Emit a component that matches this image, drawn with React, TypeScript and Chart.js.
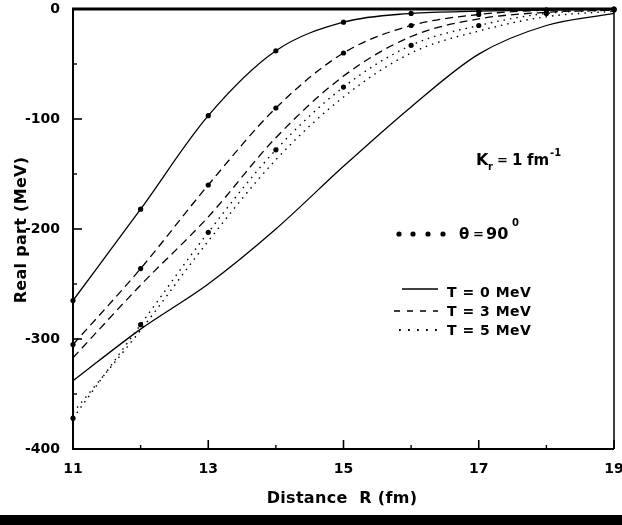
import React, { useEffect, useRef } from "react";
import { Chart, registerables } from "chart.js";

Chart.register(...registerables);

// ---- data ----
const distances = [11, 12, 13, 14, 15, 16, 17, 18, 19];
const t0Theta90 = [-265, -182, -97, -38, -12, -4, -2, -1, 0];
const t0Other = [-338, -291, -250, -200, -143, -89, -41, -15, -4];
const t3Theta90 = [-305, -236, -160, -90, -40, -15, -5, -1, 0];
const t3Other = [-317, -251, -189, -117, -61, -25, -9, -3, -1];
const t5Theta90 = [-372, -287, -203, -128, -71, -33, -15, -4, -1];
const t5Other = [-367, -292, -211, -137, -80, -40, -20, -7, -2];

const xTicks = [11, 13, 15, 17, 19];
const xMinorTicks = [12, 14, 16, 18];
const yTicks = [0, -100, -200, -300, -400];
const yMinorTicks = [-50, -150, -250, -350];

const legendLabels = ["T = 0 MeV", "T = 3 MeV", "T = 5 MeV"];
const xTitle = "Distance  R (fm)";
const yTitle = "Real part (MeV)";

const FAMILY = "'DejaVu Sans', 'Liberation Sans', Arial, sans-serif";
const SOLID: number[] = [];
const DASH = [8, 5];
const DOT = [1.5, 5];

function series(label: string, values: number[], dash: number[], marked: boolean) {
  return {
    label,
    data: distances.map((x, i) => ({ x, y: values[i] })),
    borderColor: "#000",
    backgroundColor: "#000",
    borderWidth: dash === DOT ? 1.4 : 1.3,
    borderDash: dash,
    pointRadius: marked ? 2.6 : 0,
    pointHoverRadius: 0,
    pointBorderWidth: 0,
    pointBackgroundColor: "#000",
    cubicInterpolationMode: "monotone" as const,
    fill: false,
    clip: false as const,
  };
}

function spacing(ctx: CanvasRenderingContext2D, px: number) {
  if ("letterSpacing" in ctx) (ctx as any).letterSpacing = px + "px";
}

const framePlugin = {
  id: "framePlugin",
  afterDatasetsDraw(chart: any) {
    const { ctx, chartArea: a, scales } = chart;
    const xs = scales.x;
    const ys = scales.y;
    const seg = (x1: number, y1: number, x2: number, y2: number, w: number) => {
      ctx.lineWidth = w;
      ctx.beginPath();
      ctx.moveTo(x1, y1);
      ctx.lineTo(x2, y2);
      ctx.stroke();
    };
    ctx.save();
    ctx.strokeStyle = "#000";
    ctx.fillStyle = "#000";
    ctx.setLineDash([]);
    // frame
    seg(a.left, a.top - 1, a.left, a.bottom + 1, 2);
    seg(a.left - 1, a.bottom, a.right, a.bottom, 2);
    seg(a.left - 1, a.top, a.right + 1, a.top, 3);
    seg(a.right, a.top, a.right, a.bottom, 1.5);
    // y ticks (inward)
    yTicks.forEach((v) => {
      const y = ys.getPixelForValue(v);
      seg(a.left, y, a.left + 9, y, 1.6);
    });
    yMinorTicks.forEach((v) => {
      const y = ys.getPixelForValue(v);
      seg(a.left, y, a.left + 4, y, 1.4);
    });
    // x ticks (inward)
    xTicks.forEach((v) => {
      const x = xs.getPixelForValue(v);
      seg(x, a.bottom, x, a.bottom - 9, 1.6);
    });
    xMinorTicks.forEach((v) => {
      const x = xs.getPixelForValue(v);
      seg(x, a.bottom, x, a.bottom - 4, 1.4);
    });
    ctx.restore();
  },
  afterDraw(chart: any) {
    const { ctx } = chart;
    ctx.save();
    ctx.fillStyle = "#000";
    ctx.strokeStyle = "#000";
    ctx.textBaseline = "alphabetic";
    ctx.textAlign = "left";

    // axis titles
    ctx.font = `bold 16px ${FAMILY}`;
    spacing(ctx, 0.3);
    ctx.textAlign = "center";
    ctx.fillText(xTitle, 342, 503);
    ctx.save();
    ctx.translate(26, 230);
    ctx.rotate(-Math.PI / 2);
    ctx.fillText(yTitle, 0, 0);
    ctx.restore();
    spacing(ctx, 0);
    ctx.textAlign = "left";

    // K_r = 1 fm^-1
    ctx.font = `bold 16px ${FAMILY}`;
    ctx.fillText("K", 476, 165);
    ctx.font = `bold 10px ${FAMILY}`;
    ctx.fillText("r", 488, 170);
    ctx.font = `bold 13px ${FAMILY}`;
    ctx.fillText("=", 497, 164);
    ctx.font = `bold 15px ${FAMILY}`;
    ctx.fillText("1", 512, 165);
    ctx.fillText("fm", 527, 165);
    ctx.font = `bold 10px ${FAMILY}`;
    ctx.fillText("-1", 550, 156);

    // theta = 90 deg marker legend
    [399, 413, 428, 443].forEach((x) => {
      ctx.beginPath();
      ctx.arc(x, 234, 2.6, 0, Math.PI * 2);
      ctx.fill();
    });
    ctx.font = `bold 15px ${FAMILY}`;
    ctx.fillText("θ", 459, 239);
    ctx.font = `bold 13px ${FAMILY}`;
    ctx.fillText("=", 473, 238);
    ctx.font = `bold 16px ${FAMILY}`;
    ctx.fillText("90", 486, 239);
    ctx.font = `bold 10px ${FAMILY}`;
    ctx.fillText("0", 512, 226);

    // line-style legend
    const rows = [
      { dash: SOLID, y: 289, x1: 402, base: 297, w: 1.3 },
      { dash: [6, 7], y: 311, x1: 394, base: 316, w: 1.6 },
      { dash: [1.8, 7.2], y: 330, x1: 399, base: 335, w: 1.8 },
    ];
    rows.forEach((r, i) => {
      ctx.setLineDash(r.dash);
      ctx.lineWidth = r.w;
      ctx.beginPath();
      ctx.moveTo(r.x1, r.y);
      ctx.lineTo(438, r.y);
      ctx.stroke();
      ctx.setLineDash([]);
      ctx.font = `bold 14px ${FAMILY}`;
      spacing(ctx, 0.5);
      ctx.fillText(legendLabels[i], 447, r.base);
      spacing(ctx, 0);
    });
    ctx.restore();
  },
};

export default function App() {
  const canvasRef = useRef<HTMLCanvasElement | null>(null);

  useEffect(() => {
    const canvas = canvasRef.current;
    if (!canvas) return;
    const tickFont = { family: FAMILY, weight: "bold" as const, size: 14 };
    const chart = new Chart(canvas, {
      type: "line",
      data: {
        datasets: [
          series("T = 0 MeV, θ = 90°", t0Theta90, SOLID, true),
          series("T = 0 MeV", t0Other, SOLID, false),
          series("T = 3 MeV, θ = 90°", t3Theta90, DASH, true),
          series("T = 3 MeV", t3Other, DASH, false),
          series("T = 5 MeV, θ = 90°", t5Theta90, DOT, true),
          series("T = 5 MeV", t5Other, DOT, false),
        ] as any,
      },
      options: {
        animation: false,
        responsive: false,
        devicePixelRatio: 1,
        events: [],
        layout: { padding: { top: 9, right: 8, left: 0, bottom: 0 } },
        plugins: {
          legend: { display: false },
          tooltip: { enabled: false },
          title: { display: false },
        },
        scales: {
          x: {
            type: "linear",
            min: 11,
            max: 19,
            afterBuildTicks: (s: any) => {
              s.ticks = xTicks.map((v) => ({ value: v }));
            },
            afterFit: (s: any) => {
              s.height = 66;
              s.paddingLeft = 0;
              s.paddingRight = 0;
            },
            ticks: {
              font: tickFont,
              color: "#000",
              padding: 4,
              maxRotation: 0,
              autoSkip: false,
            },
            grid: { display: false },
            border: { display: false },
          },
          y: {
            type: "linear",
            min: -400,
            max: 0,
            afterBuildTicks: (s: any) => {
              s.ticks = yTicks.map((v) => ({ value: v }));
            },
            afterFit: (s: any) => {
              s.width = 73;
              s.paddingTop = 0;
              s.paddingBottom = 0;
            },
            ticks: {
              font: tickFont,
              color: "#000",
              padding: 5,
              autoSkip: false,
            },
            grid: { display: false },
            border: { display: false },
          },
        },
      },
      plugins: [framePlugin],
    });
    return () => chart.destroy();
  }, []);

  return (
    <div
      style={{
        position: "fixed",
        left: 0,
        top: 0,
        width: 622,
        height: 525,
        background: "#fff",
        overflow: "hidden",
      }}
    >
      <canvas ref={canvasRef} width={622} height={515} style={{ display: "block" }} />
      <div style={{ width: 622, height: 10, background: "#000" }} />
    </div>
  );
}
